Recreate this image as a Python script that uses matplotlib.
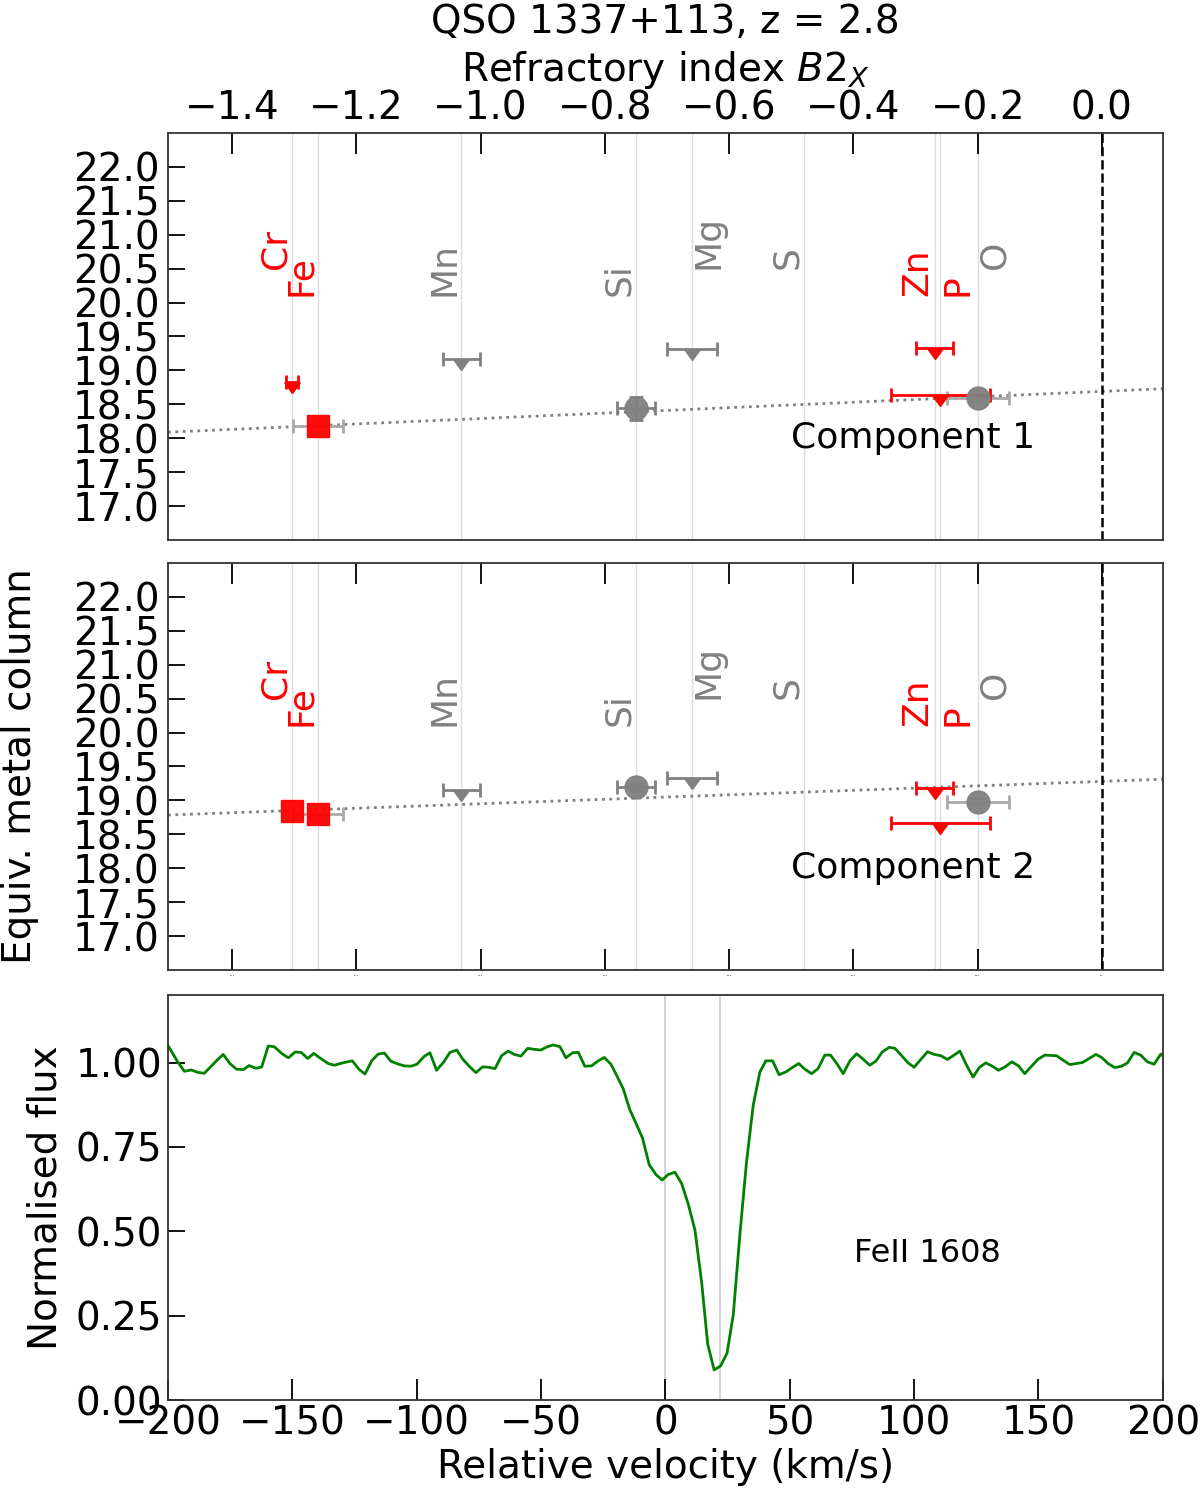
# Depletion pattern + FeII 1608 profile for QSO 1337+113

import numpy as np
import matplotlib.pyplot as plt

# Elements and their refractory index B2x
elements = ['Cr', 'Fe', 'Mn', 'Si', 'Mg', 'S', 'Zn', 'P', 'O']
b2x = [-1.303, -1.262, -1.031, -0.750, -0.660, -0.480, -0.269, -0.260, -0.200]
lab_col = ['red', 'red', 'grey', 'grey', 'grey', 'grey', 'red', 'red', 'grey']
lab_y = [20.5, 20.1, 20.1, 20.1, 20.5, 20.5, 20.1, 20.1, 20.5]
lab_ha = ['right', 'right', 'right', 'right', 'left', 'right', 'right', 'left', 'left']

# Component 1: equiv. metal column, x-error, kind ('d' detection / 'l' upper limit)
c1_val = [18.83, 18.18, 19.17, 18.44, 19.32, None, 19.33, 18.63, 18.60]
c1_xerr = [0.01, 0.04, 0.03, 0.03, 0.04, None, 0.03, 0.08, 0.05]
c1_yerr = [0.0, 0.0, 0.0, 0.17, 0.0, None, 0.0, 0.0, 0.05]
c1_kind = ['l', 'd', 'l', 'd', 'l', None, 'l', 'l', 'd']
c1_fit = (18.69, 0.40)   # intercept at B2x=0, slope

# Component 2
c2_val = [18.85, 18.80, 19.16, 19.19, 19.33, None, 19.18, 18.66, 18.98]
c2_xerr = [0.0, 0.04, 0.03, 0.03, 0.04, None, 0.03, 0.08, 0.05]
c2_yerr = [0.0, 0.0, 0.0, 0.05, 0.0, None, 0.0, 0.0, 0.05]
c2_kind = ['d', 'd', 'l', 'd', 'l', None, 'l', 'l', 'd']
c2_fit = (19.28, 0.33)

el_light = [False, True, False, False, False, False, False, False, True]

# FeII 1608 spectrum
vel = [-200.0, -196.1, -193.4, -190.7, -188.1, -185.4, -182.8, -180.4, -177.8, -175.1,
       -172.4, -169.7, -167.4, -164.7, -162.3, -159.7, -157.3, -154.3, -151.6, -148.9,
       -146.5, -143.8, -141.4, -138.2, -135.6, -133.1, -130.2, -127.9, -125.9, -123.2,
       -120.8, -118.1, -115.5, -113.0, -110.4, -107.7, -105.0, -102.3, -99.9, -97.0,
       -94.7, -92.0, -89.3, -86.6, -83.9, -81.5, -78.9, -76.2, -73.5, -71.2,
       -68.5, -65.9, -63.2, -60.8, -58.1, -55.4, -52.7, -50.1, -47.4, -45.1,
       -42.4, -40.0, -37.3, -35.0, -32.4, -29.7, -27.0, -24.6, -21.9, -19.4,
       -17.0, -14.3, -11.6, -9.2, -6.5, -3.8, -1.3, 1.1, 3.8, 6.5,
       9.2, 11.9, 14.6, 17.0, 19.6, 22.2, 24.8, 27.3, 29.9, 32.6,
       35.3, 38.0, 40.4, 43.1, 45.7, 48.4, 51.0, 53.6, 56.1, 58.8,
       61.4, 64.1, 66.4, 69.1, 71.5, 74.2, 76.9, 79.5, 82.2, 84.6,
       87.3, 90.0, 92.3, 95.0, 97.6, 100.0, 102.7, 105.4, 108.1, 110.8,
       113.4, 116.1, 118.4, 121.1, 123.7, 126.2, 128.8, 131.5, 133.9, 136.6,
       139.3, 142.0, 144.5, 147.2, 149.9, 152.6, 155.0, 157.3, 159.9, 162.6,
       165.2, 167.7, 170.4, 173.1, 175.4, 178.0, 180.7, 183.4, 185.8, 188.5,
       191.1, 193.8, 196.5, 199.2, 200.0]
flux = [1.050, 1.002, 0.974, 0.978, 0.971, 0.968, 0.988, 1.006, 1.024, 0.997,
        0.980, 0.979, 0.991, 0.983, 0.987, 1.049, 1.047, 1.027, 1.014, 1.031,
        1.030, 1.012, 1.027, 1.010, 0.997, 0.992, 0.998, 1.002, 1.005, 0.980,
        0.966, 1.005, 1.025, 1.028, 1.004, 0.996, 0.990, 0.989, 0.995, 1.018,
        1.029, 0.977, 1.000, 1.030, 1.037, 1.010, 0.989, 0.970, 0.987, 0.986,
        0.982, 1.020, 1.034, 1.024, 1.019, 1.042, 1.039, 1.037, 1.047, 1.052,
        1.047, 1.014, 1.029, 1.030, 0.989, 0.990, 1.005, 1.015, 0.995, 0.959,
        0.923, 0.860, 0.816, 0.776, 0.697, 0.668, 0.652, 0.668, 0.675, 0.642,
        0.580, 0.503, 0.347, 0.166, 0.089, 0.101, 0.139, 0.253, 0.486, 0.704,
        0.873, 0.972, 1.005, 1.005, 0.964, 0.972, 0.985, 0.997, 0.980, 0.967,
        0.982, 1.022, 1.022, 0.995, 0.967, 1.005, 1.026, 1.010, 0.992, 1.004,
        1.032, 1.045, 1.042, 1.020, 0.999, 0.986, 1.009, 1.032, 1.024, 1.020,
        1.009, 1.022, 1.034, 0.992, 0.957, 0.985, 0.999, 0.989, 0.977, 0.987,
        1.002, 0.990, 0.967, 0.989, 1.010, 1.022, 1.021, 1.020, 1.007, 0.994,
        0.997, 1.000, 1.012, 1.024, 1.015, 0.997, 0.985, 0.989, 0.999, 1.030,
        1.022, 1.002, 0.995, 1.025, 1.020]
comp_vel = [0.0, 21.9]

FS = 28      # ticks and axis labels
FS_TXT = 26  # element names and component labels
plt.rcParams['font.size'] = FS

fig = plt.figure(figsize=(12, 14.9), dpi=100)
ax1 = fig.add_axes([0.14, 0.6376, 0.829, 0.2732])
ax2 = fig.add_axes([0.14, 0.3490, 0.829, 0.2732])
ax3 = fig.add_axes([0.14, 0.0604, 0.829, 0.2718])

xlim = (-1.503, 0.098)


def panel(ax, val, xerr, yerr, kind, fit, name):
    for i, el in enumerate(elements):
        ax.axvline(b2x[i], color='#dddddd', lw=1, zorder=0)
        ax.text(b2x[i], lab_y[i], el, rotation=90, ha=lab_ha[i], va='bottom',
                color=lab_col[i], fontsize=FS_TXT)
    ax.axvline(0.0, color='k', ls='--', lw=1.8)
    xx = np.array(xlim)
    ax.plot(xx, fit[0] + fit[1] * xx, ':', color='grey', lw=2, zorder=1)
    for i in range(len(elements)):
        if val[i] is None:
            continue
        c = lab_col[i]
        if kind[i] == 'l':
            ax.errorbar(b2x[i], val[i], xerr=xerr[i], fmt='none', ecolor=c,
                        elinewidth=2, capsize=5, capthick=2, zorder=3)
            ax.plot(b2x[i], val[i], marker=11, ms=11, color=c, ls='none', zorder=3)
        else:
            ecol = 'darkgrey' if el_light[i] else 'grey'
            mk = 's' if c == 'red' else 'o'
            ax.errorbar(b2x[i], val[i], xerr=xerr[i] if xerr[i] else None,
                        yerr=yerr[i] if yerr[i] else None, fmt='none', ecolor=ecol,
                        elinewidth=2, capsize=5, capthick=2, zorder=2)
            ax.plot(b2x[i], val[i], marker=mk, ms=16.5, color=c, ls='none',
                    alpha=0.95, zorder=4)
    ax.text(-0.304, 18.0, name, ha='center', va='center', fontsize=FS_TXT)
    ax.set_xlim(*xlim)
    ax.set_ylim(16.5, 22.5)
    ax.set_yticks(np.arange(17.0, 22.01, 0.5))
    ax.set_xticks(np.arange(-1.4, 0.01, 0.2))
    ax.tick_params(axis='y', direction='in', length=12, width=1.3, pad=6)
    ax.tick_params(axis='x', direction='in', length=15, width=1.3)
    for s in ax.spines.values():
        s.set_color('#333333')
        s.set_linewidth(1.3)


panel(ax1, c1_val, c1_xerr, c1_yerr, c1_kind, c1_fit, 'Component 1')
panel(ax2, c2_val, c2_xerr, c2_yerr, c2_kind, c2_fit, 'Component 2')

ax1.xaxis.tick_top()
ax1.tick_params(axis='x', top=True, bottom=False, pad=4)
ax1.xaxis.set_label_position('top')
ax1.set_xlabel('Refractory index $B2_X$', labelpad=6)
ax1.set_title('QSO 1337+113, z = 2.8', pad=72, fontsize=FS)

ax2.tick_params(axis='x', top=True, bottom=True, labelsize=1.5)
ax2.set_ylabel('Equiv. metal column', labelpad=24)

# spectrum
for v in comp_vel:
    ax3.axvline(v, color='#cccccc', lw=1.2, zorder=0)
ax3.plot(vel, flux, color='green', lw=2)
ax3.text(105.5, 0.435, 'FeII 1608', ha='center', va='center', fontsize=23)
ax3.set_xlim(-200, 200)
ax3.set_ylim(0, 1.2)
ax3.set_yticks([0.0, 0.25, 0.5, 0.75, 1.0])
ax3.tick_params(axis='y', direction='in', length=12, width=1.3, pad=4)
ax3.tick_params(axis='x', direction='in', length=15, width=1.3, pad=3)
for s in ax3.spines.values():
    s.set_color('#333333')
    s.set_linewidth(1.3)
ax3.set_xlabel('Relative velocity (km/s)', labelpad=4)
ax3.set_ylabel('Normalised flux', labelpad=8)

fig.savefig('out.png', dpi=100)
